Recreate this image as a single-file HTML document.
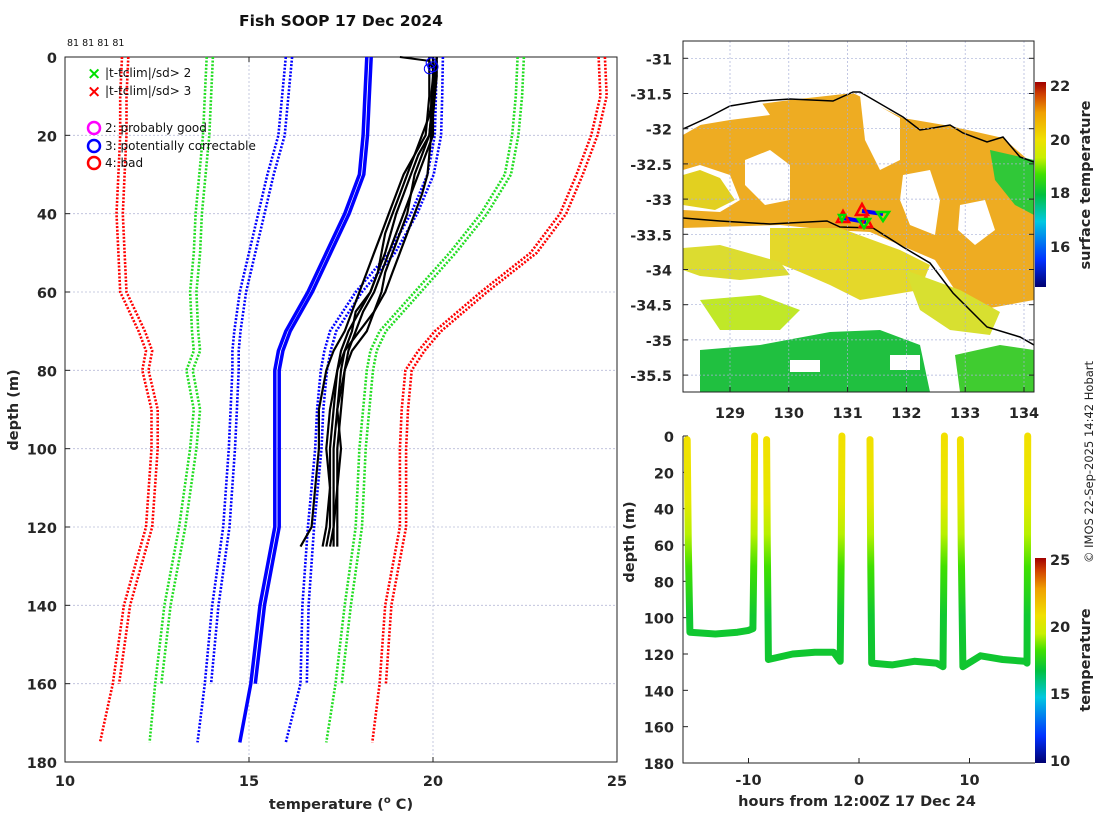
<!DOCTYPE html>
<html><head><meta charset="utf-8"><style>
body{margin:0;background:#fff;}
svg{display:block;font-family:"DejaVu Sans","Liberation Sans",sans-serif;}
.tk{font-size:14.5px;font-weight:bold;fill:#262626;}
</style></head><body>
<svg id="s" width="1100" height="820" viewBox="0 0 1100 820">
<defs>
<linearGradient id="cbMap" x1="0" y1="1" x2="0" y2="0">
<stop offset="0" stop-color="#000070"/><stop offset="0.13" stop-color="#0030ff"/><stop offset="0.32" stop-color="#00c8e0"/><stop offset="0.45" stop-color="#00c040"/><stop offset="0.55" stop-color="#40e000"/><stop offset="0.63" stop-color="#c8f000"/><stop offset="0.72" stop-color="#f0e000"/><stop offset="0.85" stop-color="#f0a000"/><stop offset="0.94" stop-color="#d04000"/><stop offset="1" stop-color="#a00000"/>
</linearGradient>
<linearGradient id="depthGrad" gradientUnits="userSpaceOnUse" x1="0" y1="436" x2="0" y2="763">
<stop offset="0" stop-color="#f2e000"/><stop offset="0.2" stop-color="#e6e800"/><stop offset="0.3" stop-color="#b8f000"/><stop offset="0.4" stop-color="#40e000"/><stop offset="0.55" stop-color="#10c830"/><stop offset="1" stop-color="#10c030"/>
</linearGradient>
<clipPath id="mapClip"><rect x="683" y="41" width="351" height="351"/></clipPath>
</defs>

<text x="341" y="26" text-anchor="middle" font-size="15.5" font-weight="bold" fill="#111">Fish SOOP 17 Dec 2024</text>
<text x="67" y="46" font-size="9.5" fill="#111">81 81 81 81</text>

<g id="left"></g>

<g font-size="12" fill="#111">
<text x="87" y="79" fill="#00e000" font-size="17" font-weight="bold">×</text>
<text x="105" y="77">|t-tclim|/sd&gt; 2</text>
<text x="87" y="97" fill="#ff0000" font-size="17" font-weight="bold">×</text>
<text x="105" y="95">|t-tclim|/sd&gt; 3</text>
<circle cx="94" cy="128" r="6" fill="none" stroke="#ff00ff" stroke-width="2.5"/>
<text x="105" y="132">2: probably good</text>
<circle cx="94" cy="146" r="6" fill="none" stroke="#0000ff" stroke-width="2.5"/>
<text x="105" y="150">3: potentially correctable</text>
<circle cx="94" cy="163" r="6" fill="none" stroke="#ff0000" stroke-width="2.5"/>
<text x="105" y="167">4: bad</text>
</g>

<text transform="translate(18,410) rotate(-90)" text-anchor="middle" class="tk" font-size="15.5">depth (m)</text>
<text x="341" y="809" text-anchor="middle" class="tk" font-size="15.5">temperature (<tspan font-size="10" dy="-6">o</tspan><tspan dy="6"> C)</tspan></text>

<!-- MAP -->
<g>
<g clip-path="url(#mapClip)">
<rect x="683" y="41" width="351" height="351" fill="#fff"/>
<polygon fill="#eeac22" points="683,135 730,108 790,100 853,93 903,118 950,126 1003,138 1034,165 1034,300 990,308 955,290 935,260 900,245 870,232 830,230 780,225 683,228"/>
<polygon fill="#fff" points="683,170 700,165 730,175 740,200 720,212 683,210"/>
<polygon fill="#fff" points="745,160 770,150 790,165 790,200 765,205 745,185"/>
<polygon fill="#fff" points="690,105 760,100 770,115 730,120 700,125"/>
<polygon fill="#fff" points="860,95 900,118 900,160 880,170 865,140"/>
<polygon fill="#fff" points="903,175 930,170 940,200 935,235 910,225 900,200"/>
<polygon fill="#fff" points="960,205 985,200 995,230 975,245 958,230"/>
<polygon fill="#e2d020" points="683,175 700,170 720,178 735,200 715,210 683,205"/>
<polygon fill="#e4d82a" points="770,228 840,228 900,250 930,265 920,290 860,300 830,285 800,272 770,260"/>
<polygon fill="#dcdc30" points="683,248 720,245 780,262 790,275 740,280 700,276 683,270"/>
<polygon fill="#d8e030" points="905,270 960,290 1000,312 990,335 950,330 920,310"/>
<polygon fill="#30c838" points="990,150 1034,160 1034,215 1015,205 995,180"/>
<polygon fill="#c0e828" points="700,300 760,295 800,310 780,330 720,330"/>
<polygon fill="#20c040" points="700,350 760,345 830,332 880,330 920,345 930,392 700,392"/>
<polygon fill="#40cc30" points="955,355 1000,345 1034,350 1034,392 960,392"/>
<rect x="790" y="360" width="30" height="12" fill="#fff"/>
<rect x="890" y="355" width="30" height="15" fill="#fff"/>
<polyline fill="none" stroke="#000" stroke-width="1.5" points="683,129 707,118 730,106 760,101 790,99 833,101 853,92 860,92 903,117 920,130 933,128 950,125 963,133 987,142 1003,137 1020,157 1034,162"/>
<polyline fill="none" stroke="#000" stroke-width="1.5" points="683,218 720,221 770,224 827,221 840,227 873,228 903,247 930,263 953,293 987,327 1020,337 1034,345"/>
</g>
<g id="mapgrid"></g>
<rect x="683" y="41" width="351" height="351" fill="none" stroke="#222" stroke-width="1"/>
<polyline points="843,218 866,222" stroke="#0000ff" stroke-width="4" fill="none"/>
<polyline points="862,211 883,214" stroke="#0000ff" stroke-width="4" fill="none"/>
<polygon points="843,211 837,222 849,222" fill="none" stroke="#ff0000" stroke-width="2.5"/>
<polygon points="862,204 856,215 868,215" fill="none" stroke="#ff0000" stroke-width="2.5"/>
<polygon points="866,216 860,227 872,227" fill="none" stroke="#ff0000" stroke-width="2.5"/>
<polygon points="839,215 845,215 842,221" fill="none" stroke="#00e000" stroke-width="2.5"/>
<polygon points="858,219 870,219 864,228" fill="none" stroke="#00e000" stroke-width="2.5"/>
<polygon points="877,212 889,212 883,221" fill="none" stroke="#00e000" stroke-width="2.5"/>
<rect x="1035" y="82" width="11" height="205" fill="url(#cbMap)"/>
<g class="tk" font-size="14">
<text x="1050" y="91">22</text>
<text x="1050" y="145">20</text>
<text x="1050" y="198">18</text>
<text x="1050" y="252">16</text>
</g>
<text transform="translate(1090,185) rotate(-90)" text-anchor="middle" class="tk" font-size="14">surface temperature</text>
</g>

<text transform="translate(1093,462) rotate(-90)" text-anchor="middle" font-size="11.5" fill="#222">© IMOS 22-Sep-2025 14:42 Hobart</text>

<!-- BOTTOM RIGHT -->
<g id="br"></g>
<rect x="1035" y="558" width="11" height="205" fill="url(#cbMap)"/>
<g class="tk" font-size="14">
<text x="1050" y="565">25</text>
<text x="1050" y="632">20</text>
<text x="1050" y="699">15</text>
<text x="1050" y="766">10</text>
</g>
<text transform="translate(1090,660) rotate(-90)" text-anchor="middle" class="tk" font-size="14">temperature</text>
<text transform="translate(634,542) rotate(-90)" text-anchor="middle" class="tk" font-size="15.5">depth (m)</text>
<text x="857" y="806" text-anchor="middle" class="tk" font-size="15.5">hours from 12:00Z 17 Dec 24</text>
</svg>
<script>
// ---- left chart data ----
const climDepths = [0,10,20,30,40,50,60,70,75,80,90,100,120,140,160,175];
const climMean  = [18.2,18.15,18.1,18.0,17.6,17.1,16.6,16.0,15.8,15.7,15.7,15.7,15.7,15.3,15.05,14.75];
const climM1 = [16.0,15.9,15.8,15.5,15.25,15.0,14.75,14.6,14.55,14.55,14.5,14.45,14.3,14.0,13.8,13.6];
const climP1 = [20.1,20.08,20.05,19.85,19.4,18.8,17.9,17.2,17.05,16.95,16.85,16.8,16.6,16.45,16.4,16.0];
const climM2 = [13.85,13.8,13.75,13.65,13.55,13.5,13.4,13.45,13.5,13.3,13.5,13.4,13.1,12.7,12.45,12.3];
const climP2 = [22.3,22.25,22.15,21.95,21.3,20.45,19.5,18.55,18.3,18.2,18.1,18.0,17.9,17.6,17.35,17.1];
const climM3 = [11.55,11.5,11.5,11.45,11.4,11.45,11.5,12.0,12.2,12.1,12.35,12.35,12.2,11.6,11.3,10.95];
const climP3 = [24.5,24.55,24.3,23.9,23.45,22.65,21.3,20.05,19.6,19.25,19.15,19.1,19.1,18.7,18.55,18.35];
const profDepths = [0,5,10,15,20,25,30,35,40,45,50,55,60,65,70,75,80,90,100,110,120,125];
const prof1 = [20.0,20.0,19.95,19.95,19.9,19.6,19.4,19.2,19.0,18.85,18.7,18.5,18.3,18.0,17.7,17.5,17.4,17.3,17.2,17.2,17.1,17.0];
const prof2 = [20.1,20.05,20.0,20.0,19.95,19.9,19.85,19.7,19.5,19.3,19.1,18.9,18.7,18.4,18.0,17.6,17.4,17.2,17.1,17.2,17.2,17.1];
const prof3 = [20.0,20.0,20.0,19.9,19.7,19.5,19.3,19.1,18.9,18.7,18.6,18.5,18.3,17.9,17.8,17.6,17.5,17.4,17.3,17.3,17.3,17.3];
const prof4 = [20.1,20.1,20.05,20.0,20.0,19.8,19.6,19.4,19.3,19.1,18.9,18.7,18.6,18.4,18.2,17.8,17.6,17.4,17.5,17.4,17.4,17.4];
const prof5 = [19.9,19.9,19.9,19.85,19.8,19.5,19.2,19.0,18.8,18.6,18.4,18.2,18.0,17.8,17.6,17.3,17.1,16.9,16.9,16.8,16.7,16.4];
const prof6 = [20.0,20.05,20.0,19.95,19.9,19.7,19.5,19.4,19.2,19.0,18.8,18.6,18.4,18.1,17.9,17.7,17.6,17.5,17.4,17.4,17.3,17.2];
const surfDepths = [0,1,3];
const surfTemps = [19.1,19.9,20.0];
const xTicks = [10,15,20,25];
const yTicks = [0,20,40,60,80,100,120,140,160,180];
// ---- depth-time data ----
const seg1Hours = [-15.55,-15.45,-15.3,-13,-11,-10,-9.6,-9.5,-9.45];
const seg1Depth = [2,60,108,109,108,107,106,60,0];
const seg2Hours = [-8.36,-8.3,-8.2,-6,-4,-2.3,-1.7,-1.6,-1.55];
const seg2Depth = [2,60,123,120,119,119,124,60,0];
const seg3Hours = [1.0,1.05,1.15,3,5,7,7.6,7.7,7.73];
const seg3Depth = [2,60,125,126,124,125,127,60,0];
const seg4Hours = [9.18,9.25,9.4,11,13,15,15.2,15.25,15.27];
const seg4Depth = [2,60,127,121,123,124,125,60,0];
const hTicks = [-10,0,10];
const brYTicks = [0,20,40,60,80,100,120,140,160,180];
const mapLonTicks = [129,130,131,132,133,134];
const mapLatTicks = [-31,-31.5,-32,-32.5,-33,-33.5,-34,-34.5,-35,-35.5];

const NS='http://www.w3.org/2000/svg';
function mk(tag,attrs,parent){const e=document.createElementNS(NS,tag);for(const k in attrs)e.setAttribute(k,attrs[k]);parent.appendChild(e);return e;}
const L={x0:65,x1:617,y0:57,y1:762};
const xs=t=>L.x0+(t-10)/15*(L.x1-L.x0);
const ys=d=>L.y0+d/180*(L.y1-L.y0);
const lg=document.getElementById('left');
yTicks.forEach(d=>{ if(d>0&&d<180){const g=mk('line',{x1:L.x0,x2:L.x1,y1:ys(d),y2:ys(d),stroke:'#b8bcd8','stroke-width':0.8,'stroke-dasharray':'2 2'},lg);

}
 const t=mk('text',{x:L.x0-8,y:ys(d)+6,'text-anchor':'end',class:'tk'},lg);t.textContent=d;
 
 
 mk('line',{x1:L.x0,x2:L.x0+5,y1:ys(d),y2:ys(d),stroke:'#222'},lg);});
xTicks.forEach(v=>{ if(v>10&&v<25){const g=mk('line',{x1:xs(v),x2:xs(v),y1:L.y0,y2:L.y1,stroke:'#b8bcd8','stroke-width':0.8,'stroke-dasharray':'2 2'},lg);

}
 const t=mk('text',{x:xs(v),y:L.y1+24,'text-anchor':'middle',class:'tk'},lg);t.textContent=v;
 
 
 mk('line',{x1:xs(v),x2:xs(v),y1:L.y0,y2:L.y0+5,stroke:'#222'},lg);mk('line',{x1:xs(v),x2:xs(v),y1:L.y1,y2:L.y1-5,stroke:'#222'},lg);});
const fr=mk('rect',{x:L.x0,y:L.y0,width:L.x1-L.x0,height:L.y1-L.y0,fill:'none',stroke:'#222'},lg);


function pts(ts,ds,off,maxD){const a=[];ts.forEach((t,i)=>{if(ds[i]<=maxD)a.push(xs(t+off).toFixed(1)+','+ys(ds[i]).toFixed(1));});return a.join(' ');}
const clim=[[climM3,'#ff0000','clim-minus-3sd'],[climP3,'#ff0000','clim-plus-3sd'],[climM2,'#22dd22','clim-minus-2sd'],[climP2,'#22dd22','clim-plus-2sd'],[climM1,'#0000ff','clim-minus-1sd'],[climP1,'#0000ff','clim-plus-1sd']];
clim.forEach(([arr,c,n])=>{[[0,175],[0.17,160]].forEach(([o,m])=>{const p=mk('polyline',{points:pts(arr,climDepths,o,m),fill:'none',stroke:c,'stroke-width':2.6,'stroke-dasharray':'2 1.6'},lg);

});});
[[0,175],[0.12,160]].forEach(([o,m])=>{const p=mk('polyline',{points:pts(climMean,climDepths,o,m),fill:'none',stroke:'#0000ff','stroke-width':3.5},lg);

});
[prof1,prof2,prof3,prof4,prof5,prof6].forEach(pr=>{const p=mk('polyline',{points:pts(pr,profDepths,0,999),fill:'none',stroke:'#000','stroke-width':2.2},lg);

});
{const p=mk('polyline',{points:pts(surfTemps,surfDepths,0,999),fill:'none',stroke:'#000','stroke-width':2},lg);

}
[[19.95,1.5],[20.0,2.5],[19.9,3]].forEach(([t,d])=>{const c=mk('circle',{cx:xs(t),cy:ys(d),r:5,fill:'none',stroke:'#0000ff','stroke-width':1},lg);

});

const M={x0:683,x1:1034,y0:41,y1:392};
const lonx=l=>730+(l-129)*58.8;
const laty=l=>58.3+(-31-l)*70.4;
const mg=document.getElementById('mapgrid');
mapLonTicks.forEach(l=>{const g=mk('line',{x1:lonx(l),x2:lonx(l),y1:M.y0,y2:M.y1,stroke:'#a8b0d8','stroke-width':0.7,'stroke-dasharray':'2 2'},mg);


mk('line',{x1:lonx(l),x2:lonx(l),y1:M.y1,y2:M.y1-5,stroke:'#222'},mg);
const t=mk('text',{x:lonx(l),y:418,'text-anchor':'middle',class:'tk'},mg);t.textContent=l;

});
mapLatTicks.forEach(l=>{const g=mk('line',{x1:M.x0,x2:M.x1,y1:laty(l),y2:laty(l),stroke:'#a8b0d8','stroke-width':0.7,'stroke-dasharray':'2 2'},mg);


mk('line',{x1:M.x0,x2:M.x0+5,y1:laty(l),y2:laty(l),stroke:'#222'},mg);
mk('line',{x1:M.x1,x2:M.x1-5,y1:laty(l),y2:laty(l),stroke:'#222'},mg);
const t=mk('text',{x:672,y:laty(l)+6,'text-anchor':'end',class:'tk'},mg);t.textContent=l;

});

const B={x0:683,x1:1028,y0:436,y1:763};
const hx=h=>859+h*11.05;
const dy=d=>B.y0+d/180*(B.y1-B.y0);
const bg=document.getElementById('br');
brYTicks.forEach(d=>{mk('line',{x1:B.x0,x2:B.x0+5,y1:dy(d),y2:dy(d),stroke:'#222'},bg);
const t=mk('text',{x:B.x0-9,y:dy(d)+6,'text-anchor':'end',class:'tk'},bg);t.textContent=d;

});
hTicks.forEach(h=>{mk('line',{x1:hx(h),x2:hx(h),y1:B.y1,y2:B.y1-5,stroke:'#222'},bg);
const t=mk('text',{x:hx(h),y:B.y1+22,'text-anchor':'middle',class:'tk'},bg);t.textContent=h;

});
mk('polyline',{points:`${B.x0},${B.y0} ${B.x0},${B.y1} ${B.x1+7},${B.y1}`,fill:'none',stroke:'#222'},bg);
[[seg1Hours,seg1Depth],[seg2Hours,seg2Depth],[seg3Hours,seg3Depth],[seg4Hours,seg4Depth]].forEach(([hh,dd])=>{
const p=mk('polyline',{points:hh.map((h,i)=>hx(h).toFixed(1)+','+dy(dd[i]).toFixed(1)).join(' '),fill:'none',stroke:'url(#depthGrad)','stroke-width':7,'stroke-linejoin':'round','stroke-linecap':'round'},bg);

});
</script>
</body></html>
